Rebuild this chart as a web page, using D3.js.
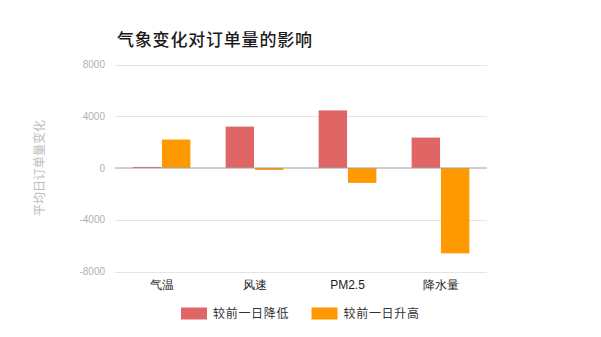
<!DOCTYPE html>
<html>
<head>
<meta charset="utf-8">
<script src="https://cdn.jsdelivr.net/npm/d3@7"></script>
<style>
  html, body { margin: 0; padding: 0; background: #fff; }
  svg { display: block; font-family: "Noto Sans CJK SC", "Liberation Sans", Arial, sans-serif; }
</style>
</head>
<body>
<svg id="chart" width="601" height="337"></svg>
<script>
// Weather factors and the change in average daily orders
const categories = ["气温", "风速", "PM2.5", "降水量"];
const seriesNames = ["较前一日降低", "较前一日升高"];
const decreaseValues = [80, 3200, 4450, 2350];
const increaseValues = [2200, -150, -1150, -6600];
const yTicks = [-8000, -4000, 0, 4000, 8000];
const colors = ["#e06666", "#ff9900"];

const svg = d3.select("#chart");
const margin = { left: 115, right: 114, top: 64.5, bottom: 65.5 };
const W = 601, H = 337;

const x = d3.scaleBand().domain(categories).range([margin.left, W - margin.right]).paddingInner(0).paddingOuter(0);
const x1 = d3.scaleBand().domain(seriesNames).range([0, x.bandwidth() * 0.64]).padding(0.03);
const y = d3.scaleLinear().domain([-8000, 8000]).range([H - margin.bottom, margin.top]);

// Title
svg.append("text")
  .attr("x", 117).attr("y", 46)
  .attr("font-size", 17).attr("font-weight", 500).attr("fill", "#1a1a1a")
  .attr("letter-spacing", 0.8)
  .text("气象变化对订单量的影响");

// Gridlines
svg.append("g").selectAll("line").data(yTicks.filter(d => d !== 0)).join("line")
  .attr("x1", margin.left).attr("x2", W - margin.right)
  .attr("y1", d => Math.round(y(d)) + 0.5).attr("y2", d => Math.round(y(d)) + 0.5)
  .attr("stroke", "#e4e4e4").attr("stroke-width", 1);

// Y axis tick labels (plain integers, hyphen minus)
const yAxis = d3.axisLeft(y).tickValues(yTicks).tickFormat(d => String(d)).tickSize(0).tickPadding(10);
const gy = svg.append("g").attr("transform", `translate(${margin.left},0)`).call(yAxis);
gy.select(".domain").remove();
gy.selectAll("text").attr("font-size", 10).attr("fill", "#b0b0b0")
  .attr("font-family", "Liberation Sans, Arial, sans-serif");

// Y axis title
svg.append("text")
  .attr("transform", `translate(44,${y(0)}) rotate(-90)`)
  .attr("text-anchor", "middle")
  .attr("font-size", 12).attr("fill", "#bdbdbd")
  .text("平均日订单量变化");

// Bars
const rows = categories.map((c, i) => ({ cat: c, vals: [decreaseValues[i], increaseValues[i]] }));
const groupOffset = (x.bandwidth() - x1.range()[1]) / 2;
const groups = svg.append("g").selectAll("g").data(rows).join("g")
  .attr("transform", d => `translate(${x(d.cat) + groupOffset},0)`);
groups.selectAll("rect").data(d => d.vals.map((v, j) => ({ v, s: seriesNames[j], j }))).join("rect")
  .attr("x", d => x1(d.s))
  .attr("width", x1.bandwidth())
  .attr("y", d => Math.min(y(d.v), y(0)))
  .attr("height", d => Math.abs(y(d.v) - y(0)))
  .attr("fill", d => colors[d.j]);

// Zero baseline
svg.append("line")
  .attr("x1", margin.left).attr("x2", W - margin.right)
  .attr("y1", y(0)).attr("y2", y(0))
  .attr("stroke", "#9e9e9e").attr("stroke-width", 1);

// X axis labels
const xAxis = d3.axisBottom(x).tickSize(0).tickPadding(0);
const gx = svg.append("g").attr("transform", `translate(0,${H - margin.bottom + 17})`).call(xAxis);
gx.select(".domain").remove();
gx.selectAll("text").attr("font-size", 12).attr("font-weight", 500).attr("fill", "#1a1a1a").attr("dy", "0");

// Legend
const legendX = [181, 311.5];
const legend = svg.append("g").selectAll("g").data(seriesNames).join("g")
  .attr("transform", (d, i) => `translate(${legendX[i]},307.5)`);
legend.append("rect").attr("width", 26).attr("height", 12).attr("fill", (d, i) => colors[i]);
legend.append("text").attr("x", 32).attr("y", 10.5)
  .attr("font-size", 12).attr("fill", "#333").attr("letter-spacing", 0.7)
  .text(d => d);
</script>
</body>
</html>
